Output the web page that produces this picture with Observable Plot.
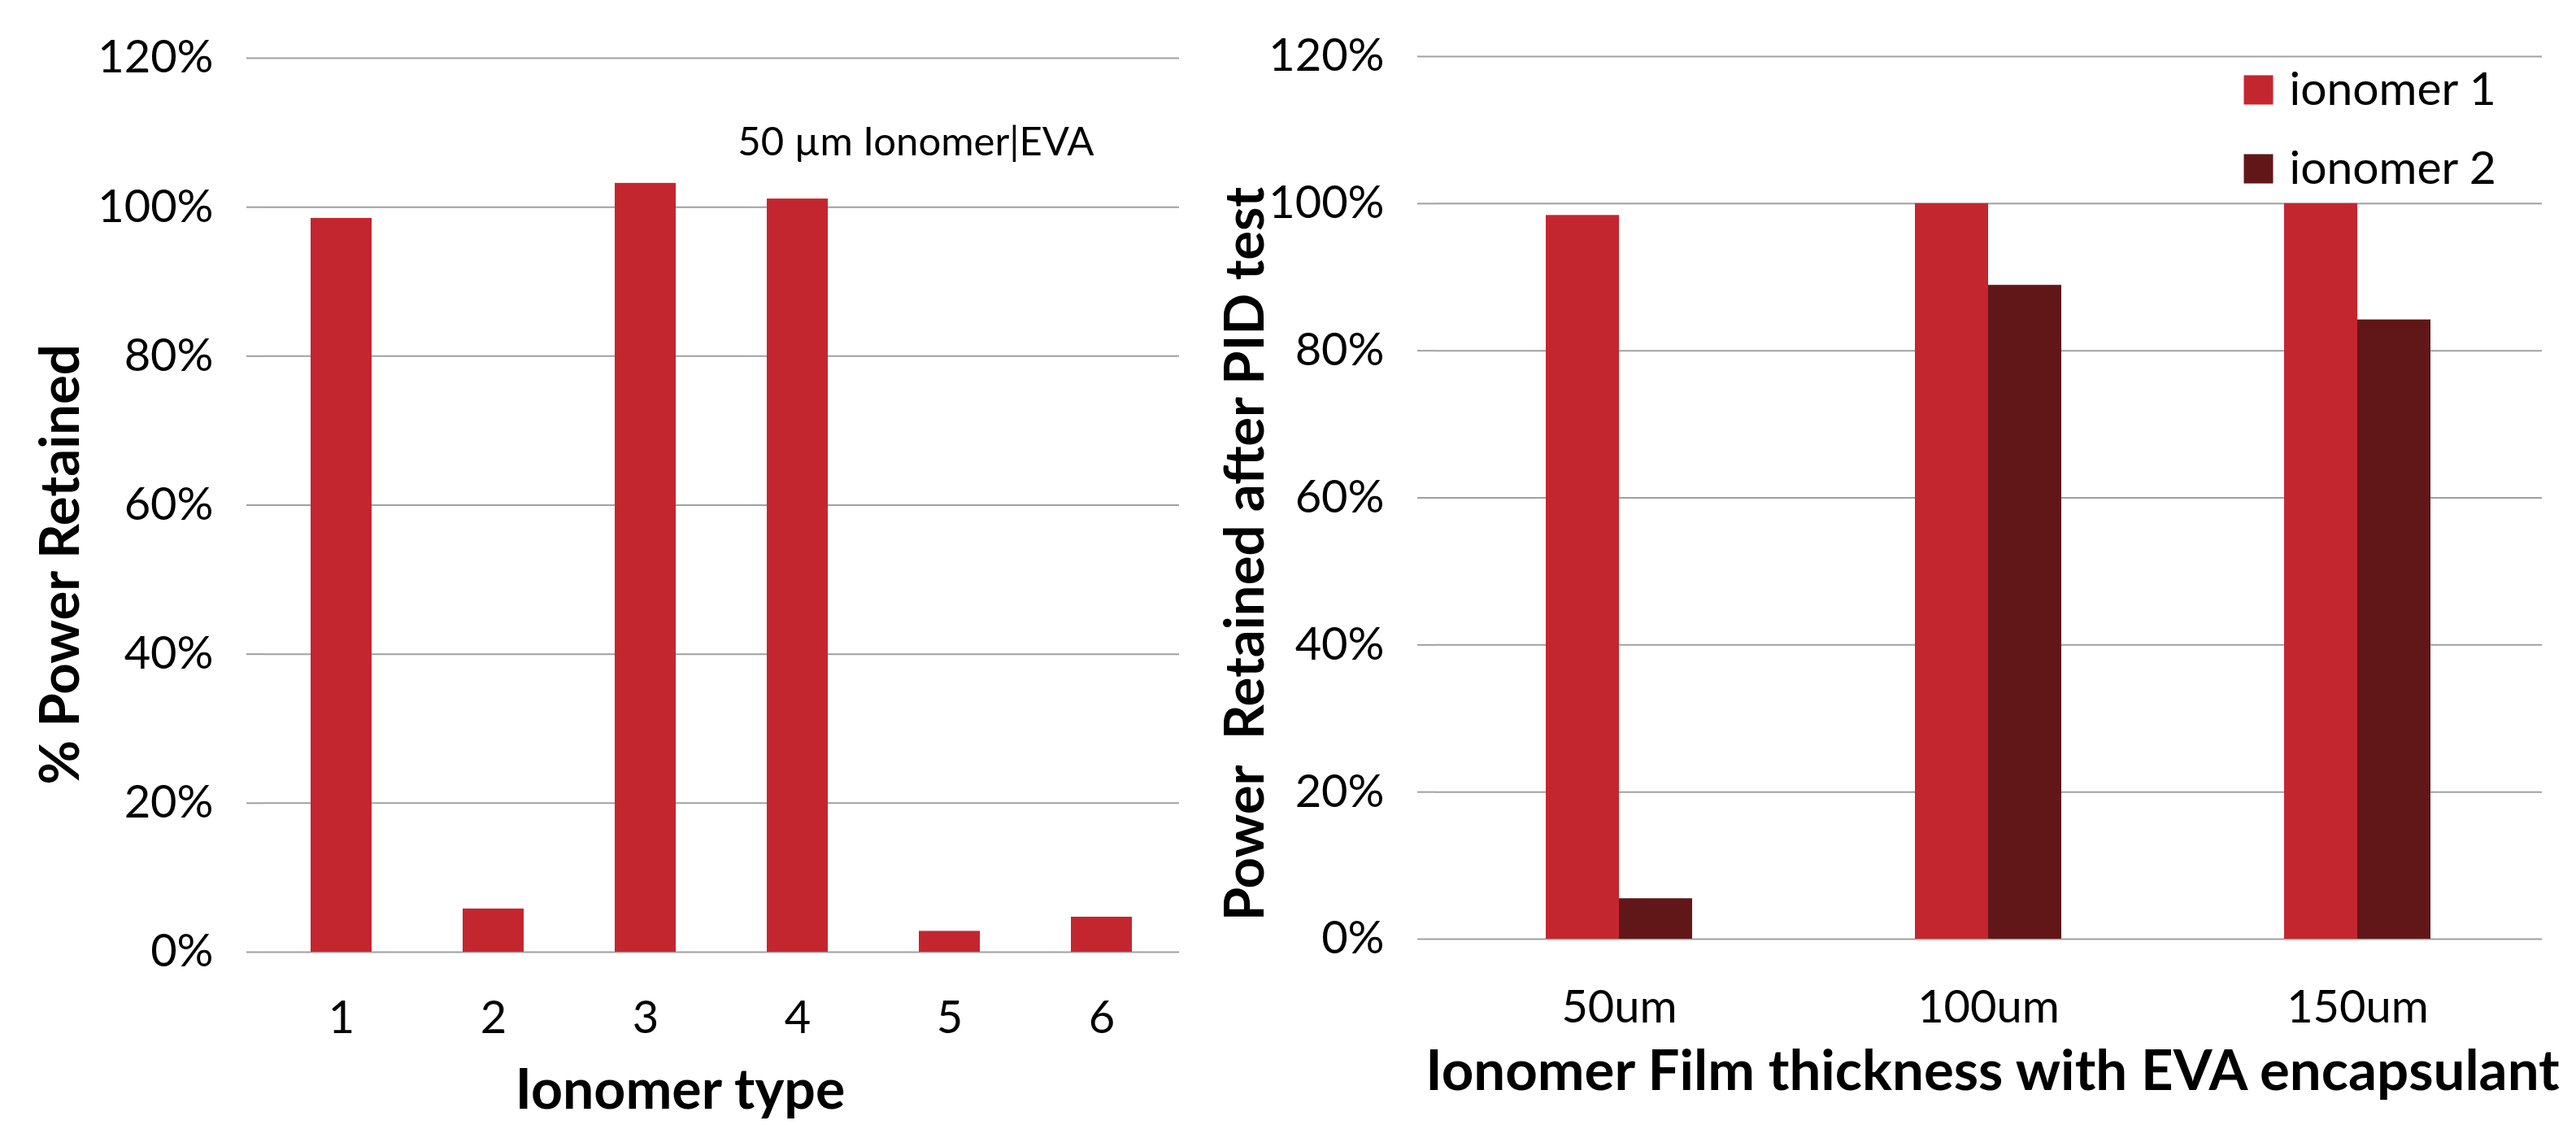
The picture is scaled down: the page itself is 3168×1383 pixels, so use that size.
<!DOCTYPE html>
<html>
<head>
<meta charset="utf-8">
<script src="https://cdn.jsdelivr.net/npm/d3@7"></script>
<script src="https://cdn.jsdelivr.net/npm/@observablehq/plot@0.6"></script>
<style>
  html, body { margin: 0; padding: 0; background: #ffffff; }
  #charts { display: flex; flex-direction: row; width: 3168px; height: 1383px; }
  #charts svg { display: block; overflow: visible; }
</style>
</head>
<body>
<div id="charts"></div>
<script>
// Left panel: power retained per ionomer type (50 µm ionomer | EVA)
const ionomerTypes = ["1", "2", "3", "4", "5", "6"];
const typeRetained = [98.5, 5.8, 103.2, 101.1, 2.8, 4.7];

// Right panel: power retained after PID test per film thickness
const thicknesses = ["50um", "100um", "150um"];
const seriesNames = ["ionomer 1", "ionomer 2"];
const ionomer1Retained = [98.4, 100, 100];
const ionomer2Retained = [5.5, 88.9, 84.2];

// Shared axis ticks (percent)
const yTicks = [0, 20, 40, 60, 80, 100, 120];
const seriesColors = ["#C4262F", "#611718"];
const gridColor = "#a0a0a0";
const fontFamily = "Lato, 'Open Sans', sans-serif";

const typeRows = ionomerTypes.map((type, i) => ({type, value: typeRetained[i]}));
const thicknessRows = thicknesses.flatMap((thickness, i) => [
  {thickness, series: seriesNames[0], value: ionomer1Retained[i]},
  {thickness, series: seriesNames[1], value: ionomer2Retained[i]}
]);

const percent = d => `${d}%`;

const left = Plot.plot({
  width: 1460,
  height: 1383,
  marginLeft: 324,
  marginRight: 10,
  marginTop: 71,
  marginBottom: 213,
  style: {fontFamily, fontSize: "56px", background: "#ffffff", color: "#000000", overflow: "visible"},
  x: {domain: ionomerTypes, paddingInner: 0.6, paddingOuter: 0.3},
  y: {domain: [0, 120]},
  marks: [
    Plot.ruleY(yTicks, {stroke: gridColor, strokeWidth: 2}),
    Plot.barY(typeRows, {x: "type", y: "value", fill: seriesColors[0]}),
    Plot.axisY(yTicks, {
      tickSize: 21, tickPadding: 41, tickFormat: percent, label: null,
      stroke: gridColor, strokeWidth: 2, line: true, fontSize: 56
    }),
    Plot.axisX({tickSize: 0, tickPadding: 60, label: null, fontSize: 56}),
    Plot.text(["% Power Retained"], {
      text: d => d, frameAnchor: "left", textAnchor: "middle", lineAnchor: "middle",
      rotate: -90, dx: -249, dy: 73, fontSize: 67, fontWeight: "bold"
    }),
    Plot.text(["Ionomer type"], {
      text: d => d, frameAnchor: "bottom", textAnchor: "middle", lineAnchor: "middle",
      dx: -51, dy: 171, fontSize: 68, fontWeight: "bold"
    }),
    Plot.text(["50 µm Ionomer|EVA"], {
      text: d => d, frameAnchor: "top-right", textAnchor: "end", lineAnchor: "middle",
      dx: -105, dy: 104, fontSize: 49
    })
  ]
});

const right = Plot.plot({
  width: 1708,
  height: 1383,
  marginLeft: 304,
  marginRight: 42,
  marginTop: 69,
  marginBottom: 229,
  style: {fontFamily, fontSize: "56px", background: "#ffffff", color: "#000000", overflow: "visible"},
  fx: {domain: thicknesses, padding: 0},
  x: {domain: seriesNames, paddingInner: 0, paddingOuter: 1.5, axis: null},
  y: {domain: [0, 120]},
  color: {domain: seriesNames, range: seriesColors},
  marks: [
    Plot.ruleY(yTicks, {stroke: gridColor, strokeWidth: 2}),
    Plot.barY(thicknessRows, {fx: "thickness", x: "series", y: "value", fill: "series"}),
    Plot.axisY(yTicks, {
      tickSize: 21, tickPadding: 41, tickFormat: percent, label: null,
      stroke: gridColor, strokeWidth: 2, line: true, fontSize: 56
    }),
    Plot.axisFx({anchor: "bottom", tickSize: 0, tickPadding: 63, label: null, fontSize: 56}),
    Plot.text([{at: thicknesses[0], label: "Power\u00a0 Retained after PID test"}], {
      fx: "at", text: "label", frameAnchor: "left", textAnchor: "middle", lineAnchor: "middle",
      rotate: -90, dx: -232, dy: 69, fontSize: 67, fontWeight: "bold"
    }),
    Plot.text([{at: thicknesses[1], label: "Ionomer Film thickness with EVA encapsulant"}], {
      fx: "at", text: "label", frameAnchor: "bottom", textAnchor: "middle", lineAnchor: "middle",
      dx: 5, dy: 163, fontSize: 69, fontWeight: "bold"
    }),
    // legend, inside the last group's panel
    Plot.dot([{at: thicknesses[2], s: seriesNames[0]}], {
      fx: "at", fill: "s", symbol: "square", r: 20.3, frameAnchor: "top-left", dx: 105, dy: 41
    }),
    Plot.dot([{at: thicknesses[2], s: seriesNames[1]}], {
      fx: "at", fill: "s", symbol: "square", r: 20.3, frameAnchor: "top-left", dx: 105, dy: 138
    }),
    Plot.text([{at: thicknesses[2], s: seriesNames[0]}], {
      fx: "at", text: "s", frameAnchor: "top-left", textAnchor: "start", lineAnchor: "middle",
      dx: 143, dy: 41, fontSize: 57
    }),
    Plot.text([{at: thicknesses[2], s: seriesNames[1]}], {
      fx: "at", text: "s", frameAnchor: "top-left", textAnchor: "start", lineAnchor: "middle",
      dx: 143, dy: 138, fontSize: 57
    })
  ]
});

const container = document.getElementById("charts");
container.append(left, right);
</script>
</body>
</html>
